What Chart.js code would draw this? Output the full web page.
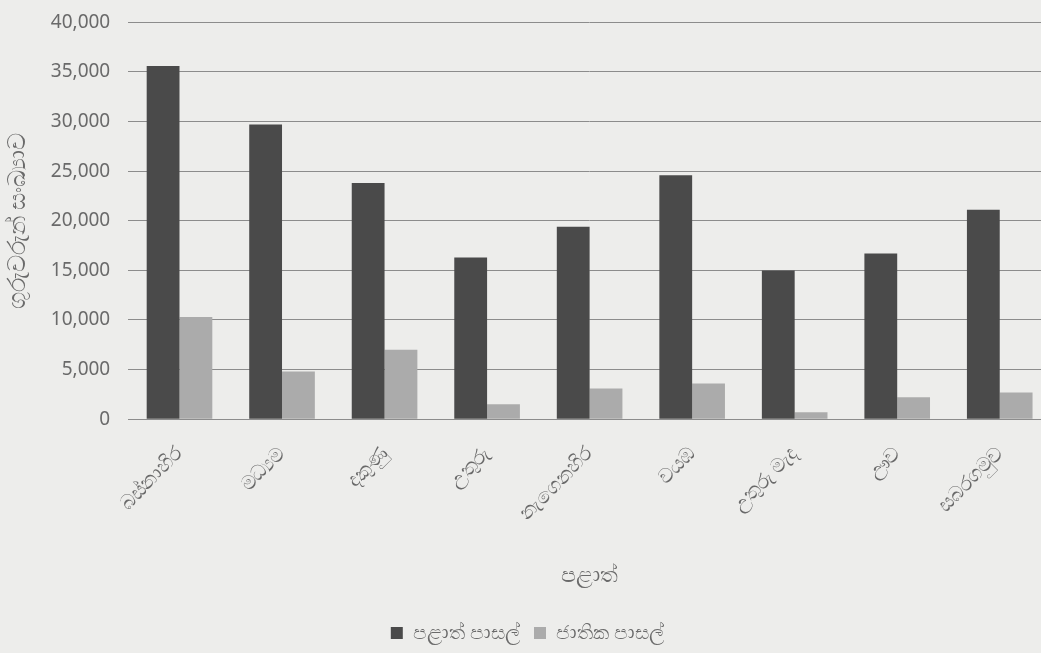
<!DOCTYPE html>
<html>
<head>
<meta charset="utf-8">
<script src="https://cdn.jsdelivr.net/npm/chart.js@4.4.1/dist/chart.umd.min.js"></script>
<style>
  html, body { margin:0; padding:0; background:#ededeb; overflow:hidden; }
  #wrap { position:relative; top:-7px; width:1060px; height:660px; }
</style>
</head>
<body>
<div id="wrap"><canvas id="chart"></canvas></div>
<script>
// Provinces and teacher counts
const provinces = ['බස්නාහිර', 'මධ්‍යම', 'දකුණු', 'උතුරු', 'නැගෙනහිර', 'වයඹ', 'උතුරු මැද', 'ඌව', 'සබරගමුව'];
const provincialSchools = [35600, 29700, 23800, 16300, 19400, 24600, 15000, 16700, 21100];
const nationalSchools   = [10300, 4800, 7000, 1500, 3100, 3600, 700, 2200, 2700];
const seriesNames = ['පළාත් පාසල්', 'ජාතික පාසල්'];
const yTitle = 'ගුරුවරුන් සංඛ්‍යාව';
const xTitle = 'පළාත්';

const FONT = "'Noto Sans', 'DejaVu Sans', sans-serif";
const INK = '#6a6a6a';

new Chart(document.getElementById('chart'), {
    type: 'bar',
    data: {
        labels: provinces,
        datasets: [
            { label: seriesNames[0], data: provincialSchools, backgroundColor: '#4a4a4a' },
            { label: seriesNames[1], data: nationalSchools,   backgroundColor: '#ababab' }
        ]
    },
    options: {
        responsive: true,
        maintainAspectRatio: false,
        animation: false,
        datasets: { bar: { barPercentage: 1, categoryPercentage: 0.64 } },
        layout: { autoPadding: false, padding: { top: 15, right: 9, left: 4, bottom: 0 } },
        plugins: {
            legend: {
                position: 'bottom',
                labels: { color: INK, font: { family: FONT, size: 20 }, boxWidth: 12, boxHeight: 12, padding: 14 }
            },
            tooltip: { enabled: false }
        },
        scales: {
            y: {
                min: 0, max: 40000,
                ticks: {
                    stepSize: 5000, color: INK, padding: 18,
                    font: { family: FONT, size: 19 },
                    callback: v => v.toLocaleString('en-US')
                },
                grid: { color: '#8c8c8c', drawTicks: false },
                border: { display: false },
                title: { display: true, text: yTitle, color: INK, font: { family: FONT, size: 24 }, padding: 0 }
            },
            x: {
                ticks: { color: INK, font: { family: FONT, size: 20 }, minRotation: 45, maxRotation: 45, padding: 15 },
                grid: { display: false },
                border: { color: '#8c8c8c' },
                title: { display: true, text: xTitle, color: INK, font: { family: FONT, size: 22 }, padding: { top: 22, bottom: 20 } }
            }
        }
    }
});
</script>
</body>
</html>
